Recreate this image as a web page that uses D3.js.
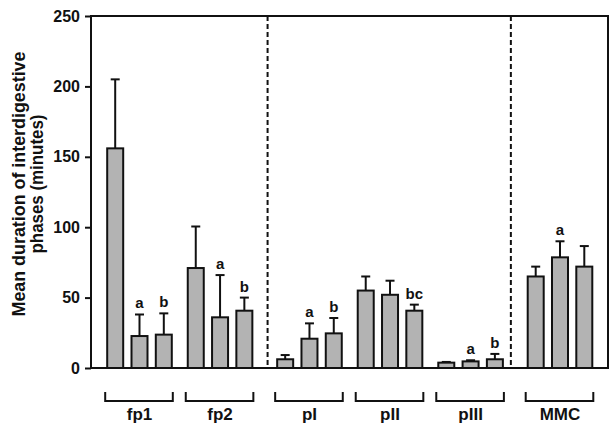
<!DOCTYPE html>
<html>
<head>
<meta charset="utf-8">
<script src="https://cdn.jsdelivr.net/npm/d3@7"></script>
<style>
  body { margin: 0; background: #fff; }
  svg { display: block; font-family: "Liberation Sans", Arial, sans-serif; font-weight: bold; }
</style>
</head>
<body>
<svg id="chart" width="614" height="427"></svg>
<script>
// groups and their section (separated by dashed lines)
var groups = ["fp1", "fp2", "pI", "pII", "pIII", "MMC"];
var sections = [0, 0, 1, 1, 1, 2];

// three bars per group: mean and mean + SE
var means = [
  [156, 22.7, 23.7],
  [71, 36, 40.7],
  [6.2, 20.8, 24.6],
  [55, 52, 40.7],
  [3.8, 4.7, 6.2],
  [65, 78.6, 72]
];
var upper = [
  [205, 38, 38.8],
  [100.5, 66, 50],
  [9.2, 31.7, 35.5],
  [65, 62, 45],
  [4.3, 5.5, 10],
  [72, 90, 86.6]
];
var letters = [
  ["", "a", "b"],
  ["", "a", "b"],
  ["", "a", "b"],
  ["", "", "bc"],
  ["", "a", "b"],
  ["", "a", ""]
];
var yTicks = [0, 50, 100, 150, 200, 250];
var dividers = [1.59, 4.61];

var svg = d3.select("#chart");
var margin = {top: 16, right: 6, bottom: 59, left: 91};
var width = 614 - margin.left - margin.right;
var height = 427 - margin.top - margin.bottom;

var g = svg.append("g").attr("transform", "translate(" + margin.left + "," + margin.top + ")");

// group position = index + small extra gap per section
var pos = function(i){ return i + 0.11 * sections[i]; };
var x = d3.scaleLinear().domain([0, pos(5)]).range([48.5, 469]);
var y = d3.scaleLinear().domain([0, 250]).range([height, 0]);

var barW = 16, step = 24.3;

// frame
g.append("rect")
  .attr("x", 0).attr("y", 0)
  .attr("width", width).attr("height", height)
  .attr("fill", "none").attr("stroke", "#111").attr("stroke-width", 2);

// dashed section dividers
g.selectAll(".divider")
  .data(dividers)
  .enter().append("line")
  .attr("x1", function(d){ return x(d); })
  .attr("x2", function(d){ return x(d); })
  .attr("y1", 0).attr("y2", height)
  .attr("stroke", "#111").attr("stroke-width", 2)
  .attr("stroke-dasharray", "5 3");

// y axis
var yAxis = d3.axisLeft(y).tickValues(yTicks).tickSize(6).tickPadding(5);
var ya = g.append("g").call(yAxis);
ya.select(".domain").remove();
ya.selectAll(".tick line").attr("stroke", "#111").attr("stroke-width", 2);
ya.selectAll(".tick text")
  .attr("fill", "#111")
  .style("font-size", "16px")
  .style("font-weight", "bold")
  .style("font-family", "'Liberation Sans', Arial, sans-serif");

// bars
var bars = [];
means.forEach(function(row, i){
  row.forEach(function(v, j){
    bars.push({ gi: i, bi: j, value: v, up: upper[i][j], letter: letters[i][j] });
  });
});
var cx = function(d){ return x(pos(d.gi)) + (d.bi - 1) * step; };

var bar = g.selectAll(".bar")
  .data(bars)
  .enter().append("g")
  .attr("class", "bar");

bar.append("line")
  .attr("x1", cx).attr("x2", cx)
  .attr("y1", function(d){ return y(d.value); })
  .attr("y2", function(d){ return y(d.up); })
  .attr("stroke", "#111").attr("stroke-width", 2);

bar.append("line")
  .attr("x1", function(d){ return cx(d) - 4.5; })
  .attr("x2", function(d){ return cx(d) + 4.5; })
  .attr("y1", function(d){ return y(d.up); })
  .attr("y2", function(d){ return y(d.up); })
  .attr("stroke", "#111").attr("stroke-width", 2);

bar.append("rect")
  .attr("x", function(d){ return cx(d) - barW / 2; })
  .attr("y", function(d){ return y(d.value); })
  .attr("width", barW)
  .attr("height", function(d){ return height - y(d.value); })
  .attr("fill", "#b3b3b3")
  .attr("stroke", "#111").attr("stroke-width", 2);

bar.append("text")
  .attr("x", cx)
  .attr("y", function(d){ return y(d.up) - 6; })
  .attr("text-anchor", "middle")
  .style("font-size", "15px")
  .attr("fill", "#111")
  .text(function(d){ return d.letter; });

// brackets under groups
var br = g.selectAll(".bracket")
  .data(groups)
  .enter().append("g")
  .attr("class", "bracket")
  .attr("transform", function(d, i){ return "translate(" + x(pos(i)) + ",0)"; });

br.append("path")
  .attr("d", function(){
    var l = -step - barW / 2 - 2, r = step + barW / 2 + 1;
    return "M" + l + "," + (height + 24) + "V" + (height + 33) + "H" + r + "V" + (height + 24);
  })
  .attr("fill", "none").attr("stroke", "#111").attr("stroke-width", 2);

br.append("text")
  .attr("y", height + 52)
  .attr("text-anchor", "middle")
  .style("font-size", "17px")
  .attr("fill", "#111")
  .text(function(d){ return d; });

// y title (two lines, condensed along the text direction)
var titleLines = ["Mean duration of interdigestive", "phases (minutes)"];
var titleLen = [265, 139];
svg.selectAll(".ytitle")
  .data(titleLines)
  .enter().append("text")
  .attr("class", "ytitle")
  .attr("transform", function(d, i){ return "translate(" + (25 + i * 18) + ",184) rotate(-90)"; })
  .attr("text-anchor", "middle")
  .attr("textLength", function(d, i){ return titleLen[i]; })
  .attr("lengthAdjust", "spacingAndGlyphs")
  .style("font-size", "19px")
  .attr("fill", "#111")
  .text(function(d){ return d; });
</script>
</body>
</html>
